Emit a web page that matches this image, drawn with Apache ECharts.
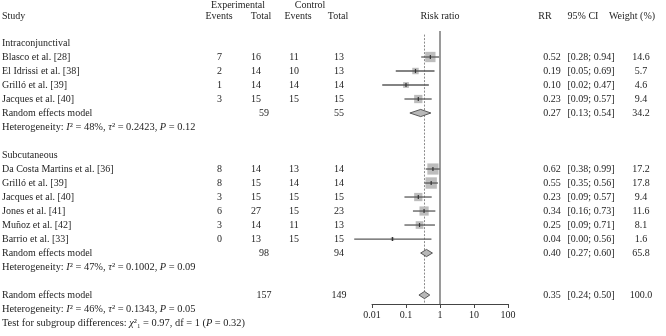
<!DOCTYPE html>
<html><head><meta charset="utf-8">
<script src="https://cdn.jsdelivr.net/npm/echarts@6/dist/echarts.min.js"></script>
<style>html,body{margin:0;padding:0;background:#fff}#c{width:666px;height:336px}</style>
</head><body><div id="c"></div>
<script>
// ---------- data ----------
const groupNames = ['Intraconjunctival', 'Subcutaneous'];
const groupSizes = [4, 6];
const studyNames = ['Blasco et al. [28]', 'El Idrissi et al. [38]', 'Grilló et al. [39]', 'Jacques et al. [40]',
  'Da Costa Martins et al. [36]', 'Grilló et al. [39]', 'Jacques et al. [40]', 'Jones et al. [41]', 'Muñoz et al. [42]', 'Barrio et al. [33]'];
const expEvents = [7, 2, 1, 3, 8, 8, 3, 6, 3, 0];
const expTotal = [16, 14, 14, 15, 14, 15, 15, 27, 14, 13];
const ctlEvents = [11, 10, 14, 15, 13, 14, 15, 15, 11, 15];
const ctlTotal = [13, 13, 14, 15, 14, 14, 15, 23, 13, 15];
const rr = [0.52, 0.19, 0.10, 0.23, 0.62, 0.55, 0.23, 0.34, 0.25, 0.04];
const ciLow = [0.28, 0.05, 0.02, 0.09, 0.38, 0.35, 0.09, 0.16, 0.09, 0.003];
const ciHigh = [0.94, 0.69, 0.47, 0.57, 0.99, 0.87, 0.57, 0.73, 0.71, 0.56];
const ciText = ['[0.28; 0.94]', '[0.05; 0.69]', '[0.02; 0.47]', '[0.09; 0.57]',
  '[0.38; 0.99]', '[0.35; 0.56]', '[0.09; 0.57]', '[0.16; 0.73]', '[0.09; 0.71]', '[0.00; 0.56]'];
const weight = [14.6, 5.7, 4.6, 9.4, 17.2, 17.8, 9.4, 11.6, 8.1, 1.6];
// pooled: [intraconjunctival, subcutaneous, overall]
const poolRR = [0.27, 0.40, 0.35];
const poolLow = [0.13, 0.27, 0.24];
const poolHigh = [0.54, 0.60, 0.50];
const poolWeight = ['34.2', '65.8', '100.0'];
const poolExpTotal = [59, 98, 157];
const poolCtlTotal = [55, 94, 149];
const hetI2 = ['48%', '47%', '46%'];
const hetTau2 = ['0.2423', '0.1002', '0.1343'];
const hetP = ['0.12', '0.09', '0.05'];
const testChi = '0.97', testDf = '1', testP = '0.32';
const xTicks = [0.01, 0.1, 1, 10, 100];

// ---------- layout ----------
const FONT = 'Liberation Serif';
const TXT = '#1e1e1e';
const ROW_MAX = 18.64;
const col = { study: 2, expEv: 219.5, expTot: 256, expTotSum: 264, ctlEv: 294, ctlTot: 339, rr: 552, ci: 591, w: 641 };

// build rows
const rows = [];
let r = 0, s = 0;
groupNames.forEach((g, gi) => {
  rows.push({ kind: 'group', idx: gi, row: r++ });
  for (let k = 0; k < groupSizes[gi]; k++) rows.push({ kind: 'study', idx: s++, row: r++ });
  rows.push({ kind: 'pool', idx: gi, row: r++ });
  rows.push({ kind: 'het', idx: gi, row: r++ });
  r++; // blank
});
rows.push({ kind: 'pool', idx: 2, row: r++ });
rows.push({ kind: 'het', idx: 2, row: r++ });
rows.push({ kind: 'test', idx: 0, row: r++ });

const studyData = rows.filter(o => o.kind === 'study').map(o => [rr[o.idx], o.row, ciLow[o.idx], ciHigh[o.idx], weight[o.idx]]);
const poolData = rows.filter(o => o.kind === 'pool').map(o => [poolRR[o.idx], o.row, poolLow[o.idx], poolHigh[o.idx]]);

const chart = echarts.init(document.getElementById('c'), null, { renderer: 'canvas' });
chart.setOption({
  animation: false,
  backgroundColor: '#fff',
  grid: { left: 372, right: 158, top: 29, bottom: 32 },
  xAxis: {
    type: 'log', logBase: 10, min: xTicks[0], max: xTicks[xTicks.length - 1], position: 'bottom',
    axisLine: { show: true, onZero: false, lineStyle: { color: '#444', width: 1 } },
    axisTick: { show: true, inside: false, length: 4, lineStyle: { color: '#444' } },
    axisLabel: { fontFamily: FONT, fontSize: 10, color: TXT, margin: 6,
      formatter: v => String(Number(Number(v).toPrecision(2))) },
    splitLine: { show: false }, minorTick: { show: false }
  },
  yAxis: { type: 'value', inverse: true, min: -1, max: ROW_MAX, show: false },
  series: [
    { // reference lines
      type: 'custom', clip: false, silent: true, z: 1,
      data: [[1, 0]],
      renderItem: (params, api) => {
        const xs = api.coord([1, 0])[0];
        const xd = api.coord([poolRR[2], 0])[0];
        const yTopS = api.coord([1, -0.85])[1];
        const yTopD = api.coord([1, -0.6])[1];
        const yBot = api.coord([1, ROW_MAX])[1];
        return { type: 'group', children: [
          { type: 'line', shape: { x1: xs, y1: yTopS, x2: xs, y2: yBot }, style: { stroke: '#6f6f6f', lineWidth: 1.4 } },
          { type: 'line', shape: { x1: xd, y1: yTopD, x2: xd, y2: yBot }, style: { stroke: '#8a8a8a', lineWidth: 1, lineDash: [2, 1.5] } }
        ] };
      }
    },
    { // studies
      type: 'custom', clip: false, z: 3,
      encode: { x: 0, y: 1 },
      data: studyData,
      renderItem: (params, api) => {
        const rw = api.value(1);
        const c = api.coord([api.value(0), rw]);
        const xl = api.coord([api.value(2), rw])[0];
        const xh = api.coord([api.value(3), rw])[0];
        const sz = 2.7 * Math.sqrt(api.value(4));
        return { type: 'group', children: [
          { type: 'rect', shape: { x: c[0] - sz / 2, y: c[1] - sz / 2, width: sz, height: sz }, style: { fill: '#bdbdbd' } },
          { type: 'line', shape: { x1: xl, y1: c[1], x2: xh, y2: c[1] }, style: { stroke: '#5a5a5a', lineWidth: 1.3 } },
          { type: 'line', shape: { x1: c[0], y1: c[1] - 2, x2: c[0], y2: c[1] + 2 }, style: { stroke: '#333', lineWidth: 1.2 } }
        ] };
      }
    },
    { // pooled diamonds
      type: 'custom', clip: false, z: 4,
      encode: { x: 0, y: 1 },
      data: poolData,
      renderItem: (params, api) => {
        const rw = api.value(1);
        const c = api.coord([api.value(0), rw]);
        const xl = api.coord([api.value(2), rw])[0];
        const xh = api.coord([api.value(3), rw])[0];
        const h = 3.6;
        return { type: 'polygon', shape: { points: [[xl, c[1]], [c[0], c[1] - h], [xh, c[1]], [c[0], c[1] + h]] },
          style: { fill: '#b8b8b8', stroke: '#4a4a4a', lineWidth: 0.9 } };
      }
    }
  ]
});

// ---------- table text ----------
const rowY = rw => chart.convertToPixel({ gridIndex: 0 }, [1, rw])[1];
const g = [];
function t(x, y, text, align, rich) {
  const st = { x: x, y: y, text: text, fill: TXT, font: '10px "' + FONT + '"', textAlign: align || 'left', textVerticalAlign: 'middle' };
  if (rich) st.rich = rich;
  g.push({ type: 'text', style: st, z: 10 });
}
const richBase = {
  n: { fontFamily: FONT, fontSize: 10.4, color: TXT },
  i: { fontFamily: FONT, fontSize: 10.4, color: TXT, fontStyle: 'italic' }
};
// headers
t(238, 5, 'Experimental', 'center');
t(310, 5, 'Control', 'center');
const hy = 16;
t(col.study, hy, 'Study');
t(219, hy, 'Events', 'center');
t(261, hy, 'Total', 'center');
t(298, hy, 'Events', 'center');
t(338, hy, 'Total', 'center');
t(440, hy, 'Risk ratio', 'center');
t(545, hy, 'RR', 'center');
t(583, hy, '95% CI', 'center');
t(632, hy, 'Weight (%)', 'center');

rows.forEach(o => {
  const y = rowY(o.row);
  if (o.kind === 'group') {
    t(col.study, y, groupNames[o.idx]);
  } else if (o.kind === 'study') {
    const i = o.idx;
    t(col.study, y, studyNames[i]);
    t(col.expEv, y, String(expEvents[i]), 'center');
    t(col.expTot, y, String(expTotal[i]), 'center');
    t(col.ctlEv, y, String(ctlEvents[i]), 'center');
    t(col.ctlTot, y, String(ctlTotal[i]), 'center');
    t(col.rr, y, rr[i].toFixed(2), 'center');
    t(col.ci, y, ciText[i], 'center');
    t(col.w, y, weight[i].toFixed(1), 'center');
  } else if (o.kind === 'pool') {
    const i = o.idx;
    t(col.study, y, 'Random effects model');
    t(col.expTotSum, y, String(poolExpTotal[i]), 'center');
    t(col.ctlTot, y, String(poolCtlTotal[i]), 'center');
    t(col.rr, y, poolRR[i].toFixed(2), 'center');
    t(col.ci, y, '[' + poolLow[i].toFixed(2) + '; ' + poolHigh[i].toFixed(2) + ']', 'center');
    t(col.w, y, poolWeight[o.idx], 'center');
  } else if (o.kind === 'het') {
    const i = o.idx;
    t(col.study, y, '{n|Heterogeneity: }{i|I}{n|² = ' + hetI2[i] + ', }{i|τ}{n|² = ' + hetTau2[i] + ', }{i|P}{n| = ' + hetP[i] + '}', 'left', richBase);
  } else if (o.kind === 'test') {
    t(col.study, y, '{n|Test for subgroup differences: }{i|χ}{n|²₁ = ' + testChi + ', df = ' + testDf + ' (}{i|P}{n| = ' + testP + ')}', 'left', richBase);
  }
});
chart.setOption({ graphic: { elements: g } });
</script>
</body></html>
